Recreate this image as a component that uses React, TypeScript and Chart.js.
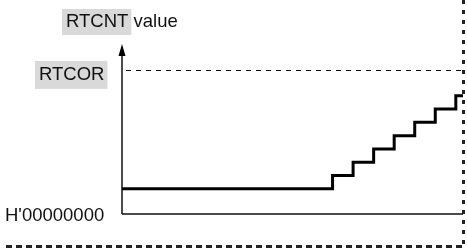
import React, { useEffect, useRef } from "react";
import { Chart, registerables } from "chart.js";

Chart.register(...registerables);

// Time (x) at which each counter value starts, and counter values (y)
const TIMES = [0, 10.25, 11.25, 12.25, 13.25, 14.25, 15.25, 16.25, 16.6];
const COUNTS = [1.9, 2.9, 3.9, 4.9, 5.9, 6.9, 7.9, 8.9, 8.9];
const RTCOR_VALUE = 10.85;
const Y_MAX = 12.8;
const X_MAX = 16.6;

const TITLE_BOXED = "RTCNT";
const TITLE_REST = " value";
const RTCOR_LABEL = "RTCOR";
const ZERO_LABEL = "H'00000000";

const FONT = "18.5px 'Liberation Sans', Arial, sans-serif";
const BOX = "#d9d9d9";

const decorPlugin = {
  id: "decor",
  beforeDatasetsDraw(chart: any) {
    const { ctx, chartArea, scales } = chart;
    const y = scales.y;
    const left = chartArea.left;
    const right = chartArea.right;
    const y0 = y.getPixelForValue(0);
    const yTop = y.getPixelForValue(Y_MAX);
    const yCor = y.getPixelForValue(RTCOR_VALUE);
    ctx.save();

    // RTCOR dashed line
    ctx.strokeStyle = "#111";
    ctx.lineWidth = 1;
    ctx.setLineDash([5, 5]);
    ctx.beginPath();
    ctx.moveTo(left + 4, Math.round(yCor) + 0.5);
    ctx.lineTo(right, Math.round(yCor) + 0.5);
    ctx.stroke();

    // right vertical thick dashed
    ctx.lineWidth = 3;
    ctx.strokeStyle = "#222";
    ctx.setLineDash([4, 6]);
    ctx.beginPath();
    ctx.moveTo(right + 0.5, 0);
    ctx.lineTo(right + 0.5, y0 + 31);
    ctx.stroke();

    // bottom thick dashed
    ctx.setLineDash([6, 4]);
    ctx.beginPath();
    ctx.moveTo(6, y0 + 32.5);
    ctx.lineTo(right, y0 + 32.5);
    ctx.stroke();
    ctx.setLineDash([]);

    // x axis line
    ctx.strokeStyle = "#111";
    ctx.lineWidth = 1.5;
    ctx.beginPath();
    ctx.moveTo(left, y0);
    ctx.lineTo(right, y0);
    ctx.stroke();

    // y axis line with arrow
    ctx.beginPath();
    ctx.moveTo(left, y0);
    ctx.lineTo(left, yTop + 8);
    ctx.stroke();
    ctx.fillStyle = "#000";
    ctx.beginPath();
    ctx.moveTo(left, yTop);
    ctx.lineTo(left - 3.5, yTop + 12);
    ctx.lineTo(left + 3.5, yTop + 12);
    ctx.closePath();
    ctx.fill();

    // labels
    ctx.font = FONT;
    ctx.textBaseline = "middle";
    ctx.textAlign = "left";

    // title
    const tw = ctx.measureText(TITLE_BOXED).width;
    const tx = 66;
    const ty = 22;
    ctx.fillStyle = BOX;
    ctx.fillRect(tx - 4, ty - 13, tw + 7, 26);
    ctx.fillStyle = "#111";
    ctx.fillText(TITLE_BOXED, tx, ty);
    ctx.fillText(TITLE_REST, tx + tw, ty);

    // RTCOR
    const rw = ctx.measureText(RTCOR_LABEL).width;
    const rx = 39;
    const ry = yCor + 5;
    ctx.fillStyle = BOX;
    ctx.fillRect(rx - 4, ry - 14, rw + 7, 28);
    ctx.fillStyle = "#111";
    ctx.fillText(RTCOR_LABEL, rx, ry);

    // zero
    ctx.fillText(ZERO_LABEL, 5, y0 + 2);

    ctx.restore();
  },
};

export default function App() {
  const ref = useRef<HTMLCanvasElement | null>(null);
  useEffect(() => {
    if (!ref.current) return;
    const chart = new Chart(ref.current, {
      type: "line",
      data: {
        datasets: [
          {
            data: TIMES.map((t, i) => ({ x: t, y: COUNTS[i] })),
            stepped: "before",
            borderColor: "#000",
            borderWidth: 3,
            pointRadius: 0,
            fill: false,
          },
        ],
      },
      options: {
        animation: false,
        responsive: false,
        devicePixelRatio: 1,
        layout: { padding: { left: 122, right: 4, top: 44, bottom: 37 } },
        plugins: { legend: { display: false }, tooltip: { enabled: false } },
        scales: {
          x: { type: "linear", min: 0, max: X_MAX, display: false },
          y: { type: "linear", min: 0, max: Y_MAX, display: false },
        },
      },
      plugins: [decorPlugin],
    });
    return () => chart.destroy();
  }, []);
  return (
    <div style={{ position: "fixed", left: 0, top: 0, width: 467, height: 251, background: "#fff" }}>
      <canvas ref={ref} width={467} height={251} style={{ display: "block" }} />
    </div>
  );
}
